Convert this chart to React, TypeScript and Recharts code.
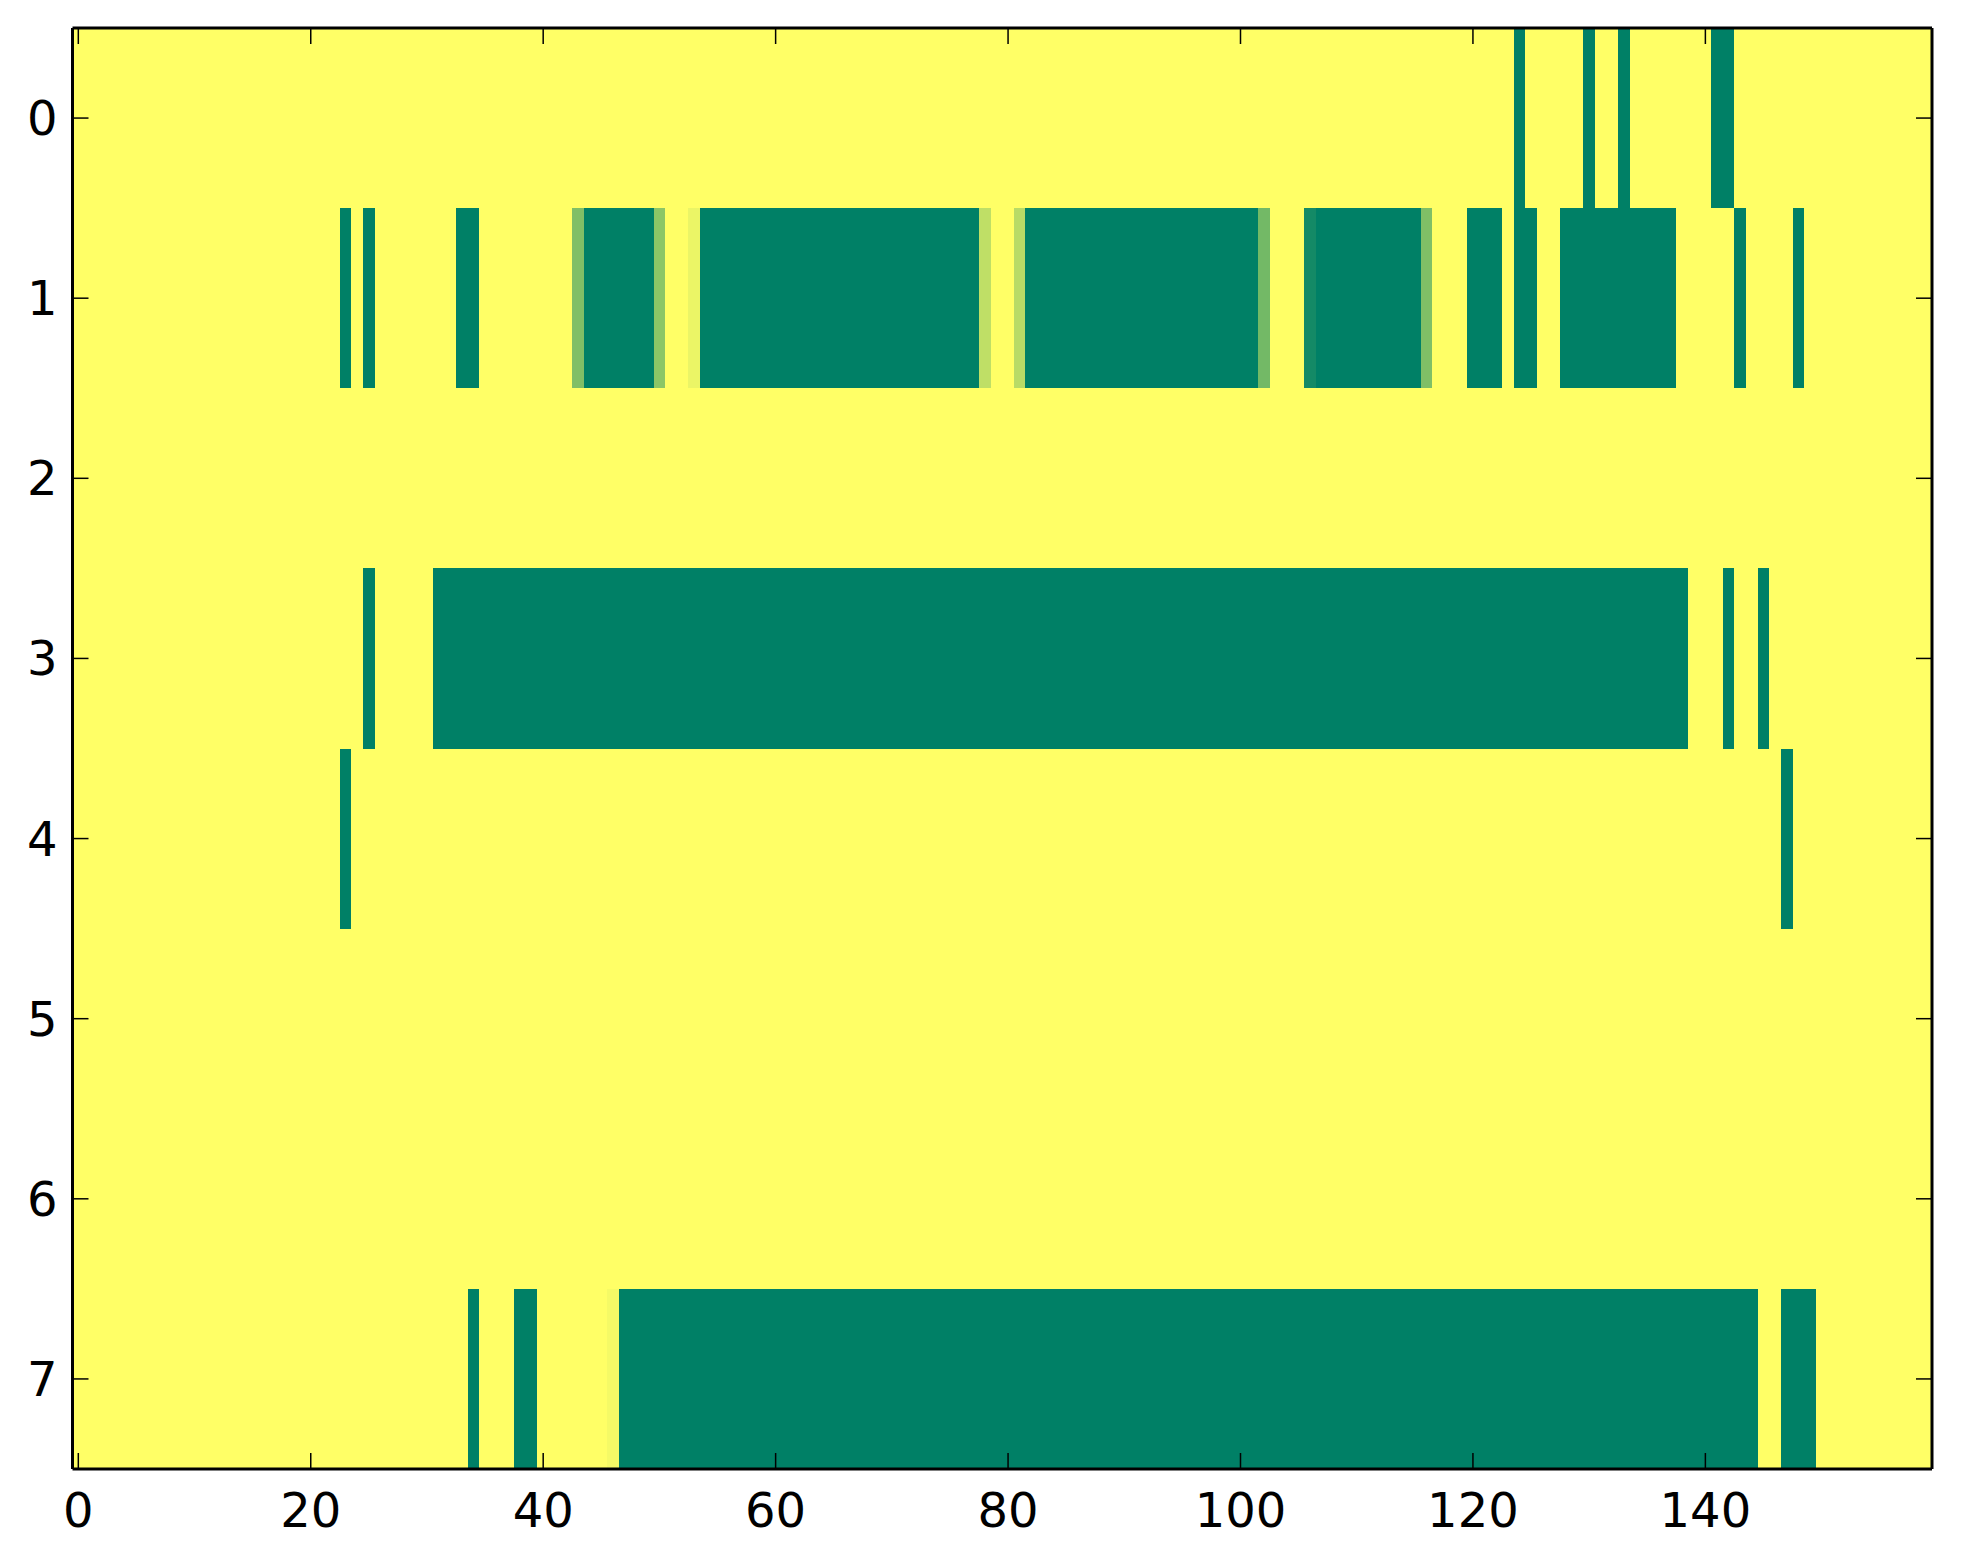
import React from "react"
import { ScatterChart, XAxis, YAxis, ReferenceArea } from "recharts"

// heat map rows: each run is [firstColumn, lastColumn, value]; value 1 is the yellow background
const row0 = [[124, 124, 0], [130, 130, 0], [133, 133, 0], [141, 142, 0]]
const row1 = [
  [23, 23, 0], [25, 25, 0], [33, 34, 0], [43, 43, 0.5], [44, 49, 0], [50, 50, 0.55],
  [53, 53, 0.92], [54, 77, 0], [78, 78, 0.75], [81, 81, 0.72], [82, 101, 0], [102, 102, 0.45],
  [106, 106, 0.08], [107, 115, 0], [116, 116, 0.5], [120, 122, 0], [124, 125, 0],
  [128, 137, 0], [143, 143, 0], [148, 148, 0],
]
const row2: number[][] = []
const row3 = [[25, 25, 0], [31, 138, 0], [142, 142, 0], [145, 145, 0]]
const row4 = [[23, 23, 0], [147, 147, 0]]
const row5: number[][] = []
const row6: number[][] = []
const row7 = [[34, 34, 0], [38, 39, 0], [46, 46, 0.96], [47, 144, 0], [147, 149, 0]]

const rows = [row0, row1, row2, row3, row4, row5, row6, row7]
const columnCount = 160
const xTicks = [0, 20, 40, 60, 80, 100, 120, 140]
const yTicks = [0, 1, 2, 3, 4, 5, 6, 7]

// matplotlib "summer" colormap
function summer(v: number) {
  const r = Math.round(255 * v)
  const g = Math.round(127.5 + 127.5 * v)
  return `rgb(${r},${g},102)`
}

const FONT = "DejaVu Sans, sans-serif"
const tickStyle = { fill: "#000", fontSize: 48, fontFamily: FONT }
const axisLine = { stroke: "#000", strokeWidth: 3 }
const tickLine = { stroke: "#000", strokeWidth: 1.5 }

export default function App() {
  const xDomain = [-0.5, columnCount - 0.5]
  const yDomain = [-0.5, rows.length - 0.5]

  const cells = rows.flatMap((runs, r) =>
    runs.map(([a, b, v], i) => (
      <ReferenceArea
        key={`c-${r}-${i}`}
        x1={a - 0.5}
        x2={b + 0.5}
        y1={r - 0.5}
        y2={r + 0.5}
        fill={summer(v)}
        fillOpacity={1}
        stroke="none"
        shapeRendering="crispEdges"
      />
    ))
  )

  return (
    <div style={{ background: "#fff" }}>
      <ScatterChart width={1955} height={1556} margin={{ top: 19, right: 30, bottom: 35, left: 4.5 }}>
        <ReferenceArea
          x1={xDomain[0]}
          x2={xDomain[1]}
          y1={yDomain[0]}
          y2={yDomain[1]}
          fill={summer(1)}
          fillOpacity={1}
          stroke="none"
        />
        {cells}
        <XAxis
          type="number"
          dataKey="x"
          domain={xDomain}
          allowDataOverflow
          ticks={xTicks}
          interval={0}
          height={60}
          tickSize={-16}
          tickMargin={40}
          tick={tickStyle}
          axisLine={axisLine}
          tickLine={tickLine}
        />
        <XAxis
          xAxisId="top"
          orientation="top"
          type="number"
          dataKey="x"
          domain={xDomain}
          allowDataOverflow
          ticks={xTicks}
          interval={0}
          height={1}
          tickSize={-16}
          tickFormatter={() => ""}
          axisLine={axisLine}
          tickLine={tickLine}
        />
        <YAxis
          type="number"
          dataKey="y"
          domain={yDomain}
          allowDataOverflow
          reversed
          ticks={yTicks}
          interval={0}
          width={60}
          tickSize={-16}
          tickMargin={31}
          tick={tickStyle}
          axisLine={axisLine}
          tickLine={tickLine}
        />
        <YAxis
          yAxisId="right"
          orientation="right"
          type="number"
          dataKey="y"
          domain={yDomain}
          allowDataOverflow
          reversed
          ticks={yTicks}
          interval={0}
          width={1}
          tickSize={-16}
          tickFormatter={() => ""}
          axisLine={axisLine}
          tickLine={tickLine}
        />
      </ScatterChart>
    </div>
  )
}
